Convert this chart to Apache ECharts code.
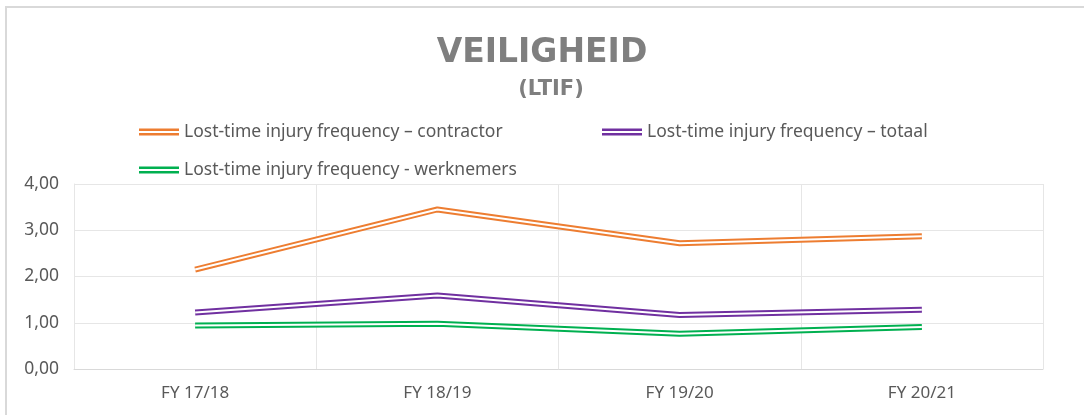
<!DOCTYPE html>
<html>
<head>
<meta charset="utf-8">
<script src="https://cdn.jsdelivr.net/npm/echarts@6/dist/echarts.min.js"></script>
<style>
    html, body { margin: 0; padding: 0; background: #fff; }
    #chart { width: 1084px; height: 415px; }
</style>
</head>
<body>
<div id="chart"></div>
<script>
const categories = ['FY 17/18', 'FY 18/19', 'FY 19/20', 'FY 20/21'];
const contractor = [2.15, 3.45, 2.72, 2.87];
const totaal = [1.22, 1.59, 1.17, 1.28];
const werknemers = [0.94, 0.98, 0.76, 0.91];

const nameContractor = 'Lost-time injury frequency \u2013 contractor';
const nameTotaal = 'Lost-time injury frequency \u2013 totaal';
const nameWerknemers = 'Lost-time injury frequency - werknemers';

// excel-style double line: a thick coloured line with a thin white line on top
const doubleIcon = 'path://M0 0H40V2.4H0Z M0 4.6H40V7H0Z';

function outer(name, data, color) {
    return {
        name: name,
        type: 'line',
        data: data,
        color: color,
        symbol: 'none',
        lineStyle: {color: color, width: 6},
        z: 2
    };
}

function inner(name, data) {
    return {
        name: name + ' (inner)',
        type: 'line',
        data: data,
        symbol: 'none',
        silent: true,
        lineStyle: {color: '#fff', width: 2},
        z: 3
    };
}

function legendAt(name, left, top) {
    return {
        data: [name],
        left: left,
        top: top,
        icon: doubleIcon,
        itemWidth: 40,
        itemHeight: 7,
        itemGap: 6,
        selectedMode: false,
        textStyle: {color: '#595959', fontSize: 17.5, fontFamily: 'Noto Sans'}
    };
}

let option = {
    animation: false,
    title: [{
        text: 'VEILIGHEID',
        left: 'center',
        top: 32,
        textStyle: {color: '#7f7f7f', fontSize: 33, fontWeight: 'bold', fontFamily: 'DejaVu Sans'}
    }, {
        text: '(LTIF)',
        left: 546,
        textAlign: 'center',
        top: 74,
        textStyle: {color: '#7f7f7f', fontSize: 21, fontWeight: 'bold', fontFamily: 'DejaVu Sans'}
    }],
    legend: [
        legendAt(nameContractor, 134, 118),
        legendAt(nameTotaal, 597, 118),
        legendAt(nameWerknemers, 134, 156)
    ],
    graphic: [{
        type: 'rect',
        shape: {x: 6, y: 7, width: 1200, height: 600},
        style: {fill: 'none', stroke: '#d9d9d9', lineWidth: 2},
        silent: true
    }],
    grid: {
        left: 74,
        right: 41,
        top: 184,
        bottom: 46
    },
    xAxis: {
        type: 'category',
        data: categories,
        axisTick: {show: false},
        axisLine: {lineStyle: {color: '#d9d9d9'}},
        splitLine: {show: true, lineStyle: {color: '#e6e6e6'}},
        axisLabel: {color: '#595959', fontSize: 17, fontFamily: 'Noto Sans', margin: 16}
    },
    yAxis: {
        type: 'value',
        min: 0,
        max: 4,
        interval: 1,
        axisLine: {show: true, lineStyle: {color: '#e6e6e6'}},
        splitLine: {lineStyle: {color: '#e6e6e6'}},
        axisLabel: {
            color: '#595959',
            fontSize: 17.5,
            fontFamily: 'Noto Sans',
            margin: 15,
            formatter: v => v.toFixed(2).replace('.', ',')
        }
    },
    series: [
        outer(nameContractor, contractor, '#ed7d31'),
        inner(nameContractor, contractor),
        outer(nameTotaal, totaal, '#7030a0'),
        inner(nameTotaal, totaal),
        outer(nameWerknemers, werknemers, '#00b050'),
        inner(nameWerknemers, werknemers)
    ]
};

let myChart = echarts.init(document.getElementById('chart'));
myChart.setOption(option);
</script>
</body>
</html>
